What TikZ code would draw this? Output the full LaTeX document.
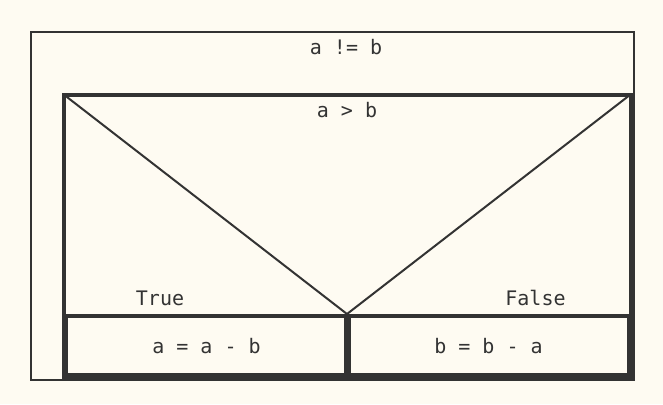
\documentclass[tikz,border=0pt]{standalone}
\usepackage{fontspec}
\setmonofont{DejaVu Sans Mono}
\definecolor{paper}{HTML}{FEFBF2}
\definecolor{ink}{HTML}{333333}
\newcommand{\NsdFont}{\ttfamily\fontsize{15}{18}\selectfont}

\begin{document}
\begin{tikzpicture}[x=0.75pt,y=-0.75pt,
		loopbox/.style={draw=ink,line width=1.5pt},
		blockline/.style={draw=ink,line width=3pt},
		diagline/.style={draw=ink,line width=1.5pt},
		nsdtext/.style={text=ink,font=\NsdFont,anchor=base,inner sep=0pt}]
				\fill[paper] (0,0) rectangle (663,404);
				\useasboundingbox (0,0) rectangle (663,404);

				% while loop
				\coordinate (loopNW) at (31,32);
				\coordinate (loopSE) at (633.7,379.5);
				\draw[loopbox] (loopNW) rectangle (loopSE);
				\node[nsdtext] (loopCond) at (346,54.5) {a != b};

				% if block
				\coordinate (ifNW) at (63.7,94.5);
				\coordinate (ifNE) at (630.5,94.5);
				\coordinate (ifSE) at (630.5,378.7);
				\coordinate (ifTip) at (347,314);
				\draw[blockline] (ifNW) rectangle (ifSE);
				\draw[diagline] (ifNW) -- (ifTip) -- (ifNE);
				\draw[blockline] (63.7,315.5) -- (630.5,315.5);
				\node[nsdtext] (ifCond) at (347,117.5) {a > b};
				\node[nsdtext] (ifTrue) at (160,305.5) {True};
				\node[nsdtext] (ifFalse) at (535.5,305.5) {False};

				% branches
				\draw[blockline] (65.7,315.5) rectangle (346.3,374.7);
				\draw[blockline] (349.3,315.5) rectangle (628.5,374.7);
				\node[nsdtext] (trueStmt) at (206.5,353) {a = a - b};
				\node[nsdtext] (falseStmt) at (488.5,353) {b = b - a};
\end{tikzpicture}
\end{document}
